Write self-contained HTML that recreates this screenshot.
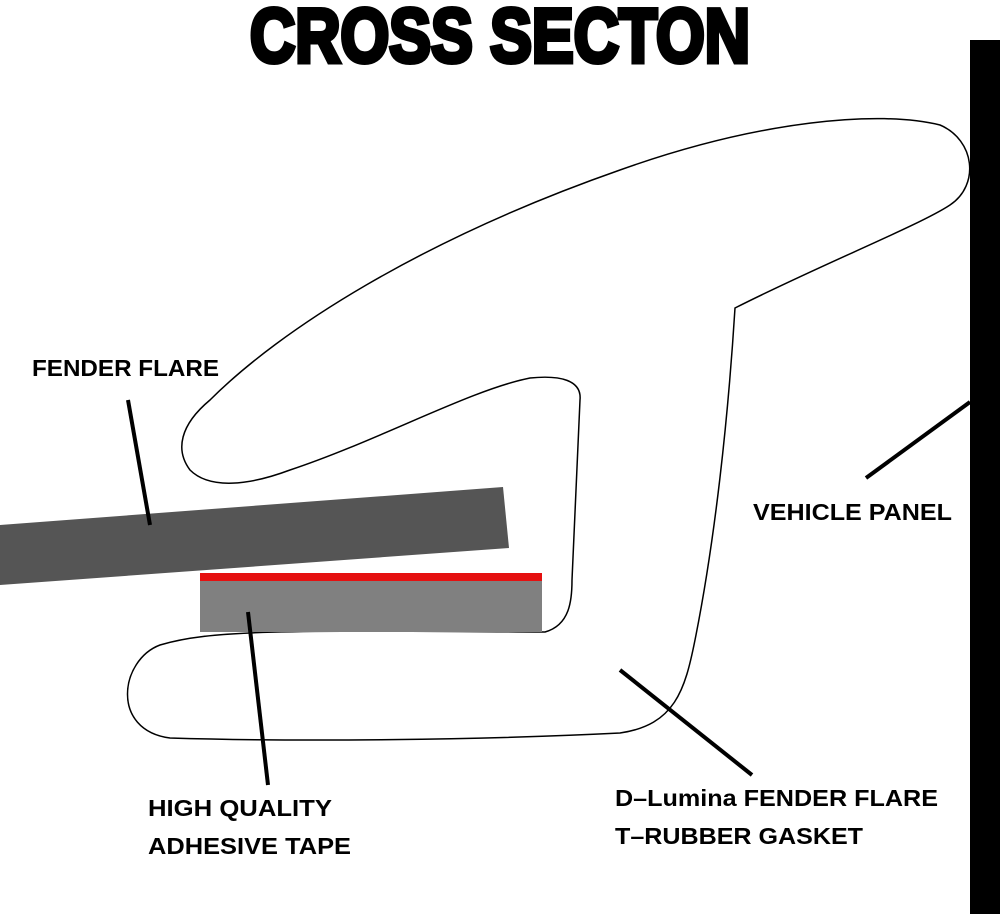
<!DOCTYPE html>
<html><head><style>
html,body{margin:0;padding:0;background:#fff;width:1000px;height:914px;overflow:hidden}
text{font-family:"Liberation Sans",sans-serif;font-weight:bold}
</style></head><body>
<svg width="1000" height="914" viewBox="0 0 1000 914" xmlns="http://www.w3.org/2000/svg">
<text x="250" y="62" font-size="76" textLength="500" lengthAdjust="spacingAndGlyphs" stroke="#000" stroke-width="5" fill="#000">CROSS SECTON</text>
<rect x="970" y="40" width="30" height="874" fill="#000"/>
<path d="M190,470 C175,450 180,425 210,400 C280,330 420,240 620,170 C760,120 880,110 940,125 C975,140 980,185 950,205 C920,225 820,265 735,308 C728,420 715,540 695,640 C685,690 675,725 620,733 C480,740 300,742 170,738 C110,730 120,660 160,645 C210,630 280,630 545,632 C570,625 572,600 572,580 C575,500 578,440 580,400 C582,380 560,375 530,378 C470,390 380,440 290,470 C250,485 210,490 190,470 Z" fill="none" stroke="#000" stroke-width="1.5"/>
<polygon points="0,525 503,487 509,548 0,585" fill="#555"/>
<rect x="200" y="580" width="342" height="52" fill="#808080"/>
<rect x="200" y="573" width="342" height="8" fill="#e51010"/>
<g stroke="#000" stroke-width="4">
<line x1="128" y1="400" x2="150" y2="525"/>
<line x1="248" y1="612" x2="268" y2="785"/>
<line x1="620" y1="670" x2="752" y2="775"/>
<line x1="866" y1="478" x2="970" y2="402"/>
</g>
<g font-size="23" fill="#000">
<text x="32" y="376" textLength="187" lengthAdjust="spacingAndGlyphs">FENDER FLARE</text>
<text x="753" y="520" textLength="199" lengthAdjust="spacingAndGlyphs">VEHICLE PANEL</text>
<text x="148" y="816" textLength="184" lengthAdjust="spacingAndGlyphs">HIGH QUALITY</text>
<text x="148" y="854" textLength="203" lengthAdjust="spacingAndGlyphs">ADHESIVE TAPE</text>
<text x="615" y="806" textLength="323" lengthAdjust="spacingAndGlyphs">D–Lumina FENDER FLARE</text>
<text x="615" y="844" textLength="248" lengthAdjust="spacingAndGlyphs">T–RUBBER GASKET</text>
</g>
</svg>
</body></html>
